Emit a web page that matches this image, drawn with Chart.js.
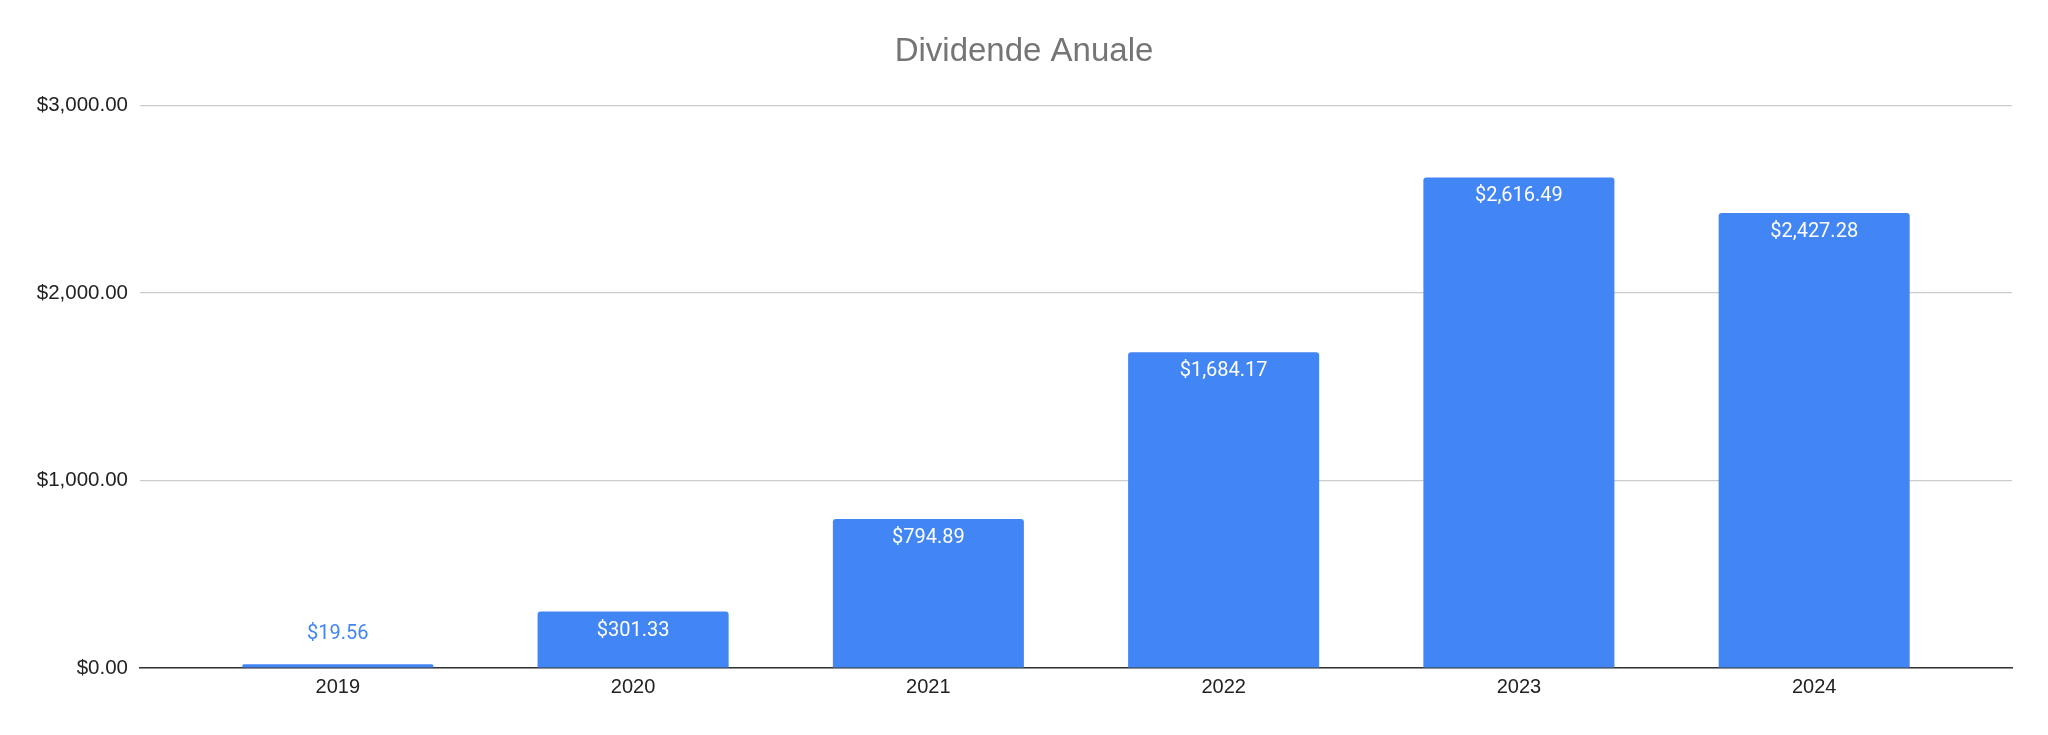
<!DOCTYPE html>
<html>
<head>
<meta charset="utf-8">
<title>Dividende Anuale</title>
<script src="https://cdn.jsdelivr.net/npm/chart.js@4.4.1/dist/chart.umd.min.js"></script>
<style>
  html, body { margin: 0; padding: 0; background: #fff; }
  #wrap { width: 2048px; height: 735px; }
</style>
</head>
<body>
<div id="wrap"><canvas id="chart-dividende"></canvas></div>
<script>
// Données
const annees = ['2019', '2020', '2021', '2022', '2023', '2024'];
const dividendes = [19.56, 301.33, 794.89, 1684.17, 2616.49, 2427.28];
const ticksY = [0, 1000, 2000, 3000];

const BLEU = '#4285F4';

function formatDollar(v) {
  return '$' + Number(v).toLocaleString('en-US', { minimumFractionDigits: 2, maximumFractionDigits: 2 });
}

// Plugin maison pour les étiquettes de valeur (pas de chartjs-plugin-datalabels)
const etiquettesBarres = {
  id: 'etiquettesBarres',
  afterDatasetsDraw(chart) {
    const ctx = chart.ctx;
    const meta = chart.getDatasetMeta(0);
    ctx.save();
    ctx.font = '20px Roboto, "Liberation Sans", sans-serif';
    ctx.textAlign = 'center';
    meta.data.forEach((bar, i) => {
      const hauteur = bar.base - bar.y;
      const texte = formatDollar(dividendes[i]);
      if (hauteur > 34) {
        ctx.fillStyle = '#ffffff';
        ctx.textBaseline = 'top';
        ctx.fillText(texte, bar.x, bar.y + 9);
      } else {
        ctx.fillStyle = BLEU;
        ctx.textBaseline = 'bottom';
        ctx.fillText(texte, bar.x, bar.y - 20);
      }
    });
    ctx.restore();
  }
};

const ctx = document.getElementById('chart-dividende').getContext('2d');

new Chart(ctx, {
  type: 'bar',
  data: {
    datasets: [{
      label: 'Dividende',
      data: annees.map((a, i) => ({ x: i, y: dividendes[i] })),
      backgroundColor: BLEU,
      borderRadius: { topLeft: 3, topRight: 3 },
      borderSkipped: 'start',
      categoryPercentage: 1,
      barPercentage: 0.647
    }]
  },
  options: {
    responsive: true,
    maintainAspectRatio: false,
    animation: false,
    // padding gauche = droite pour centrer le titre sur la page
    layout: { padding: { left: 36, right: 36, top: 0, bottom: 0 } },
    plugins: {
      legend: { display: false },
      tooltip: { enabled: false },
      title: {
        display: true,
        text: 'Dividende Anuale',
        color: '#757575',
        font: { family: '"Liberation Sans", Arial, sans-serif', size: 33, weight: 'normal', lineHeight: 1.2 },
        padding: { top: 32, bottom: 34 }
      }
    },
    scales: {
      x: {
        type: 'linear',
        offset: false,
        min: -0.67,
        max: annees.length - 1 + 0.67,
        grid: { display: false },
        border: { display: true, color: '#333333', width: 1.5 },
        afterBuildTicks(scale) {
          scale.ticks = annees.map((a, i) => ({ value: i }));
        },
        afterFit(scale) { scale.height = 67; },
        ticks: {
          color: '#222222',
          padding: -1,
          font: { family: '"Liberation Sans", Arial, sans-serif', size: 20 },
          callback: (v) => annees[v]
        }
      },
      y: {
        min: 0,
        max: 3000,
        afterBuildTicks(scale) {
          scale.ticks = ticksY.map(v => ({ value: v }));
        },
        afterFit(scale) { scale.width = 104; },
        grid: { color: '#cccccc', lineWidth: 1.2, drawTicks: false },
        border: { display: false },
        ticks: {
          color: '#222222',
          padding: 12,
          font: { family: '"Liberation Sans", Arial, sans-serif', size: 20.5 },
          callback: (v) => formatDollar(v)
        }
      }
    }
  },
  plugins: [etiquettesBarres]
});
</script>
</body>
</html>
